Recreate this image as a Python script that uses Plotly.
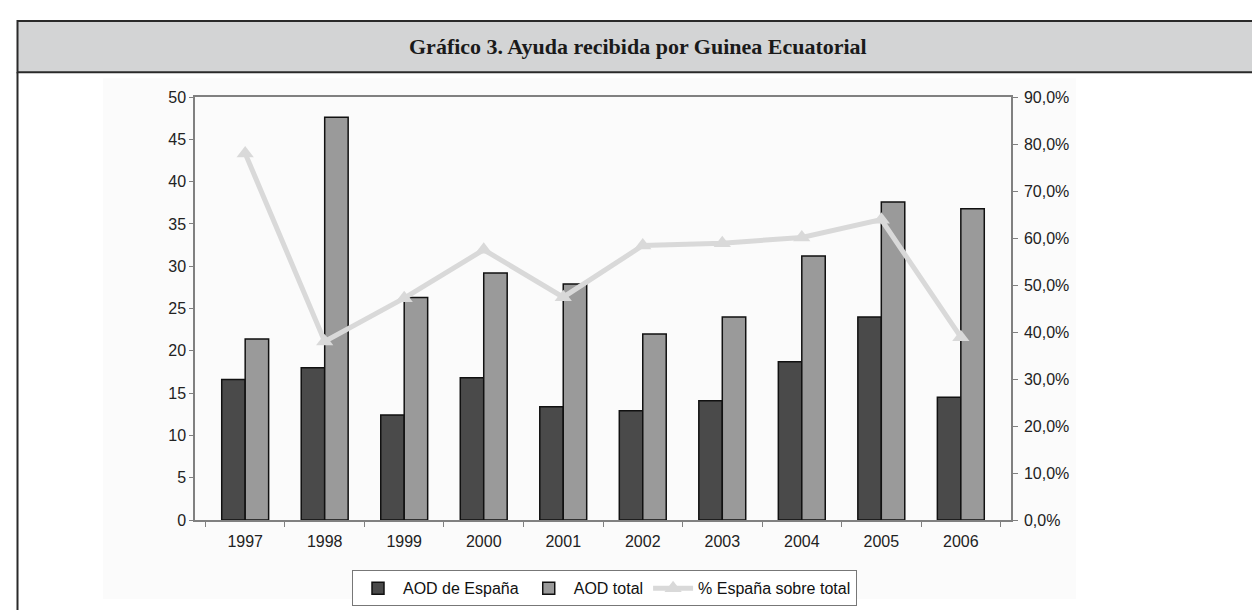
import plotly.graph_objects as go

years = ["1997", "1998", "1999", "2000", "2001", "2002", "2003", "2004", "2005", "2006"]
aod_espana = [16.6, 18.0, 12.4, 16.8, 13.4, 12.9, 14.1, 18.7, 24.0, 14.5]
aod_total = [21.4, 47.6, 26.3, 29.2, 27.9, 22.0, 24.0, 31.2, 37.6, 36.8]
pct_espana = [78.0, 38.0, 47.2, 57.5, 47.4, 58.4, 58.9, 60.1, 63.9, 38.9]

W, H = 1260, 610
L, R, T, B = 187, 1003, 89, 518


def px(x):
    return (x - L) / (R - L)


def py(y):
    return (B - y) / (B - T)


fig = go.Figure()
fig.add_trace(go.Bar(
    x=years, y=aod_espana, name="AOD de España",
    marker=dict(color="#4a4a4a", line=dict(color="#111111", width=1.5)),
))
fig.add_trace(go.Bar(
    x=years, y=aod_total, name="AOD total",
    marker=dict(color="#9a9a9a", line=dict(color="#111111", width=1.5)),
))
fig.add_trace(go.Scatter(
    x=years, y=[p / 100 for p in pct_espana], name="% España sobre total",
    yaxis="y2", mode="lines+markers",
    line=dict(color="#d9d9d9", width=5),
    marker=dict(symbol="triangle-up", size=15, color="#d9d9d9"),
))

axis_font = dict(family="Liberation Sans, Arial, sans-serif", size=16, color="#222222")

fig.update_layout(
    width=W, height=H,
    margin=dict(l=L, r=W - R, t=T, b=H - B),
    paper_bgcolor="white",
    plot_bgcolor="#fcfcfc",
    separators=",.",
    barmode="group", bargap=0.41, bargroupgap=0,
    font=axis_font,
    xaxis=dict(
        type="category", showline=True, linecolor="#808080", linewidth=1.5,
        mirror=True, ticks="outside", ticklen=5, tickcolor="#808080",
        tickson="boundaries", tickfont=axis_font, showgrid=False,
        ticklabelstandoff=6,
    ),
    yaxis=dict(
        range=[0, 50], dtick=5, showline=True, linecolor="#808080", linewidth=1.5,
        ticks="outside", ticklen=4, tickcolor="#808080", showgrid=False,
        zeroline=False, tickfont=axis_font,
    ),
    yaxis2=dict(
        range=[0, 0.9], dtick=0.1, tickformat=".1%", overlaying="y", side="right",
        showline=True, linecolor="#808080", linewidth=1.5, ticks="outside",
        ticklen=5, tickcolor="#808080", showgrid=False, zeroline=False,
        tickfont=axis_font, ticklabelstandoff=3,
    ),
    legend=dict(
        orientation="h", x=px(596.5), xanchor="center", y=py(569), yanchor="top",
        bordercolor="#777777", borderwidth=1, bgcolor="white",
        font=dict(family="Liberation Sans, Arial, sans-serif", size=16, color="#111111"),
        itemwidth=40, tracegroupgap=0,
    ),
    showlegend=True,
)

shapes = [
    # faint chart-area background
    dict(type="rect", xref="paper", yref="paper", x0=px(95), x1=px(1068), y0=py(598), y1=py(70),
         fillcolor="#fbfbfb", line=dict(width=0), layer="below"),
    # header band
    dict(type="rect", xref="paper", yref="paper", x0=px(9.5), x1=px(1270), y0=py(64), y1=py(12),
         fillcolor="#d3d4d5", line=dict(color="#2a2a2a", width=2), layer="below"),
    # left frame line
    dict(type="line", xref="paper", yref="paper", x0=px(9.5), x1=px(9.5), y0=py(64), y1=py(615),
         line=dict(color="#2a2a2a", width=2)),
]
fig.update_layout(shapes=shapes)

fig.add_annotation(
    text="<b>Gráfico 3. Ayuda recibida por Guinea Ecuatorial</b>",
    xref="paper", yref="paper", x=px(630), y=py(38), xanchor="center", yanchor="middle",
    showarrow=False,
    font=dict(family="Liberation Serif, Times New Roman, serif", size=22, color="#1a1a1a"),
)

fig.write_html("out.html")
